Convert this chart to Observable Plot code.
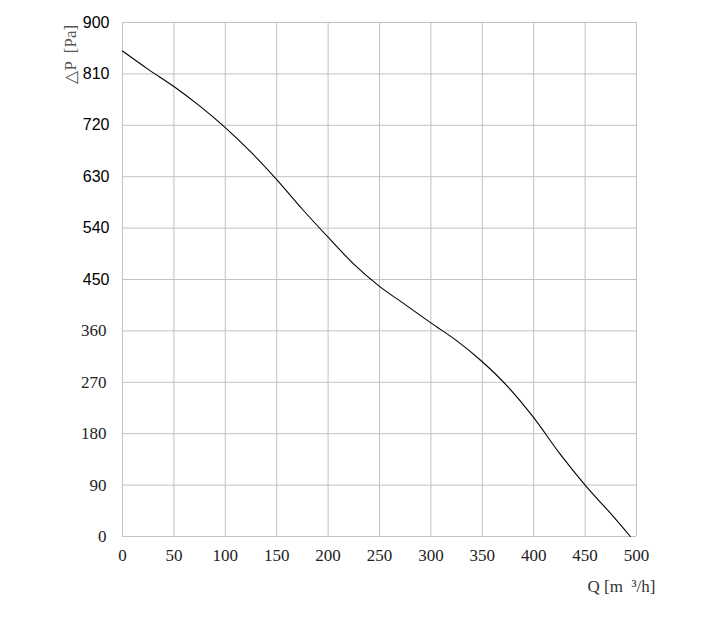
<!DOCTYPE html>
<html>
<head>
<meta charset="utf-8">
<script src="https://cdn.jsdelivr.net/npm/d3@7"></script>
<script src="https://cdn.jsdelivr.net/npm/@observablehq/plot@0.6"></script>
<style>
  html, body { margin: 0; padding: 0; background: #fff; }
</style>
</head>
<body>
<div id="chart"></div>
<script>
const flowQ = [0, 25, 50, 75, 100, 125, 150, 175, 200, 225, 250, 275, 300, 325, 350, 375, 400, 425, 450, 475, 494];
const pressureP = [850, 818, 788, 754, 716, 673, 625, 573, 524, 477, 438, 406, 374, 343, 306, 262, 208, 146, 90, 40, 0];
const xTicks = [0, 50, 100, 150, 200, 250, 300, 350, 400, 450, 500];
const yTicksSans = [450, 540, 630, 720, 810, 900];
const yTicksSerif = [0, 90, 180, 270, 360];
const yTicks = [...yTicksSerif, ...yTicksSans];
const xLabel = "Q [m  ³/h]";
const yLabel = "△P  [Pa]";

const data = flowQ.map((q, i) => ({q, p: pressureP[i]}));

const chart = Plot.plot({
  width: 717,
  height: 618,
  marginLeft: 122,
  marginRight: 81,
  marginTop: 22,
  marginBottom: 82,
  style: {background: "#fff"},
  x: {domain: [0, 500]},
  y: {domain: [0, 900]},
  marks: [
    Plot.gridX(xTicks, {stroke: "#c2c2c2", strokeOpacity: 1, strokeWidth: 1}),
    Plot.gridY(yTicks, {stroke: "#c2c2c2", strokeOpacity: 1, strokeWidth: 1}),
    Plot.line(data, {x: "q", y: "p", curve: "catmull-rom", stroke: "#000", strokeWidth: 1.1}),
    Plot.axisY(yTicksSans, {tickSize: 0, tickPadding: 13, fontFamily: "Liberation Sans, Arial, sans-serif", fontSize: 16, fill: "#000", label: null}),
    Plot.axisY(yTicksSerif, {tickSize: 0, tickPadding: 16, fontFamily: "Liberation Serif, serif", fontSize: 17, fill: "#222", label: null}),
    Plot.axisX(xTicks, {tickSize: 0, tickPadding: 12, fontFamily: "Liberation Serif, serif", fontSize: 17, fill: "#222", label: null}),
    Plot.text([xLabel], {frameAnchor: "bottom-right", text: d => d, dx: 19, dy: 55, textAnchor: "end", fontFamily: "Liberation Serif, serif", fontSize: 17, fill: "#333", style: {letterSpacing: "1px"}}),
    Plot.text([yLabel], {frameAnchor: "top-left", text: d => d, rotate: -90, dx: -59, dy: 61, textAnchor: "start", fontFamily: "Liberation Serif, serif", fontSize: 17, fill: "#555"})
  ]
});
document.getElementById("chart").appendChild(chart);
</script>
</body>
</html>
